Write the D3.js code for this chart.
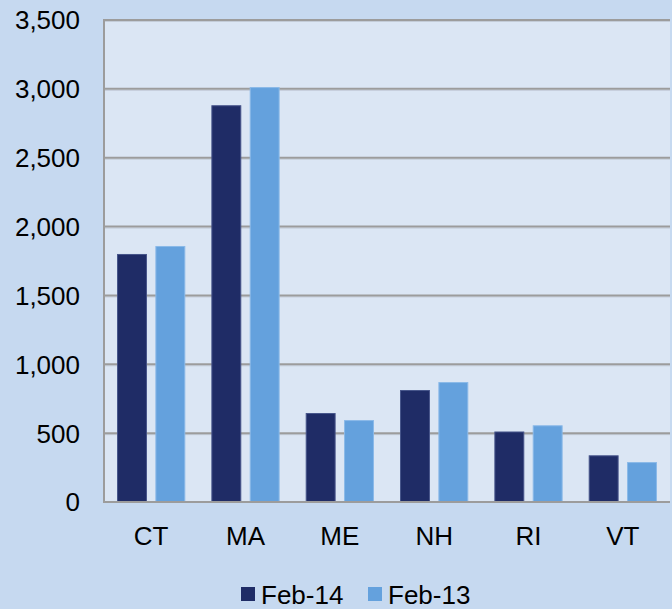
<!DOCTYPE html>
<html><head><meta charset="utf-8">
<script src="https://cdn.jsdelivr.net/npm/d3@7"></script>
<style>html,body{margin:0;padding:0;background:#c6d9f0;}svg{display:block;font-family:"Liberation Sans",Arial,sans-serif;}</style>
</head><body>
<svg id="c" width="672" height="609"></svg>
<script>
const categories = ["CT","MA","ME","NH","RI","VT"];
const seriesNames = ["Feb-14","Feb-13"];
const feb14 = [1801, 2881, 646, 813, 512, 339];
const feb13 = [1859, 3013, 595, 871, 557, 290];
const yTicks = [0,500,1000,1500,2000,2500,3000,3500];
const colors = ["#1f2c66","#64a1dd"];
const strokes = ["#46548a","#8ab9e8"];

const svg = d3.select("#c");
const L = 104, R = 670, T = 20, B = 502;
svg.append("rect").attr("width",672).attr("height",609).attr("fill","#c6d9f0");
svg.append("rect").attr("x",L).attr("y",T).attr("width",R-L).attr("height",B-T).attr("fill","#dbe6f4");

const x = d3.scaleBand().domain(categories).range([L,R]).paddingInner(0).paddingOuter(0);
const y = d3.scaleLinear().domain([0,3500]).range([B,T]);
const sub = d3.scaleBand().domain(seriesNames).range([0,x.bandwidth()]).paddingInner(0.22).paddingOuter(0.34);

// gridlines
const g = svg.append("g");
g.selectAll("line.s").data(yTicks.filter(d=>d>0)).join("line")
  .attr("x1",L).attr("x2",R).attr("y1",d=>y(d)+1.5).attr("y2",d=>y(d)+1.5)
  .attr("stroke","#c3ccd8").attr("stroke-width",1);
g.selectAll("line.g").data(yTicks.filter(d=>d>0)).join("line")
  .attr("x1",L).attr("x2",R).attr("y1",d=>y(d)).attr("y2",d=>y(d))
  .attr("stroke","#9c9c9c").attr("stroke-width",2);

// bars
const series = [feb14, feb13];
series.forEach((vals,si)=>{
  svg.append("g").selectAll("rect").data(categories).join("rect")
    .attr("x",(c)=>x(c)+sub(seriesNames[si])+0.5)
    .attr("y",(c,i)=>y(vals[i])+0.5)
    .attr("width",sub.bandwidth()-1)
    .attr("height",(c,i)=>y(0)-y(vals[i])-0.5)
    .attr("fill",colors[si]).attr("stroke",strokes[si]).attr("stroke-width",1);
});

// axes lines
svg.append("line").attr("x1",L).attr("x2",L).attr("y1",T-1).attr("y2",B+1).attr("stroke","#9c9c9c").attr("stroke-width",2);
svg.append("line").attr("x1",L-1).attr("x2",R).attr("y1",B).attr("y2",B).attr("stroke","#9c9c9c").attr("stroke-width",2);

// y labels
const fmt = d3.format(",");
svg.append("g").selectAll("text").data(yTicks).join("text")
  .attr("x",80).attr("y",d=>y(d)).attr("dy","0.36em")
  .attr("text-anchor","end").attr("font-size",26).attr("fill","#000")
  .text(d=>fmt(d));

// x labels
svg.append("g").selectAll("text").data(categories).join("text")
  .attr("x",c=>x(c)+x.bandwidth()/2).attr("y",545)
  .attr("text-anchor","middle").attr("font-size",26).attr("fill","#000")
  .text(c=>c);

// legend
const legX = [241, 368];
const lg = svg.append("g");
seriesNames.forEach((n,i)=>{
  lg.append("rect").attr("x",legX[i]).attr("y",587).attr("width",14).attr("height",14).attr("fill",colors[i]);
  lg.append("text").attr("x",legX[i]+20).attr("y",604).attr("font-size",26).attr("fill","#000").text(n);
});
</script>
</body></html>
